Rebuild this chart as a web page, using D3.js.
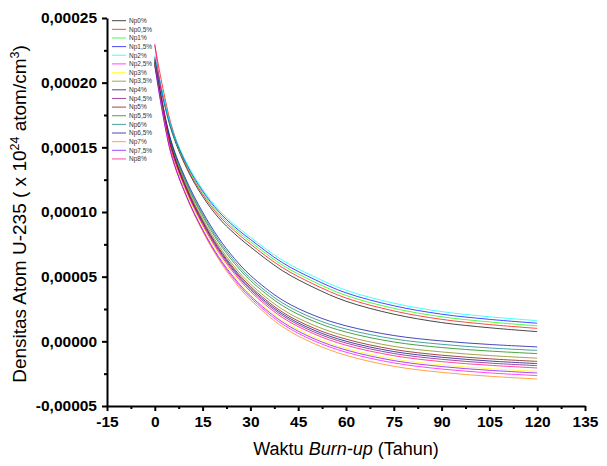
<!DOCTYPE html>
<html><head><meta charset="utf-8">
<script src="https://cdn.jsdelivr.net/npm/d3@7"></script>
<style>body{margin:0;background:#fff}</style></head>
<body>
<svg id="c" width="607" height="466"></svg>
<script>
// Burn-up time (years)
const years = [0, 5, 10, 15, 20, 25, 30, 40, 50, 60, 75, 90, 105, 120];
// U-235 atom density, in units of 1e-5 (x 10^24 atom/cm^3)
const np0   = [21.8, 16.47, 13.38, 11.21, 9.56, 8.33, 7.30, 5.47, 4.15, 3.10, 2.10, 1.45, 1.05, 0.75];
const np05  = [22.9, 16.9, 13.5, 11.37, 9.75, 8.54, 7.52, 5.71, 4.4, 3.35, 2.35, 1.7, 1.3, 1.0];
const np1   = [21.9, 16.6, 13.6, 11.5, 9.9, 8.7, 7.7, 5.9, 4.6, 3.55, 2.55, 1.9, 1.5, 1.2];
const np15  = [22.0, 16.66, 13.7, 11.63, 10.05, 8.86, 7.88, 6.09, 4.8, 3.75, 2.75, 2.1, 1.7, 1.4];
const np2   = [22.1, 16.72, 13.8, 11.76, 10.2, 9.03, 8.05, 6.28, 5.0, 3.95, 2.95, 2.3, 1.9, 1.6];
const np25  = [21.4, 14.6, 11.15, 8.58, 6.45, 4.76, 3.38, 1.34, 0.04, -0.84, -1.67, -2.14, -2.44, -2.65];
const np3   = [21.6, 14.94, 11.45, 8.87, 6.75, 5.04, 3.66, 1.63, 0.34, -0.54, -1.36, -1.82, -2.11, -2.32];
const np35  = [21.7, 15.30, 11.96, 9.48, 7.43, 5.77, 4.44, 2.48, 1.23, 0.40, -0.39, -0.82, -1.10, -1.30];
const np4   = [21.6, 15.15, 11.75, 9.23, 7.15, 5.47, 4.12, 2.13, 0.86, 0.01, -0.79, -1.23, -1.52, -1.72];
const np45  = [21.8, 15.09, 11.67, 9.13, 7.04, 5.36, 4.00, 2.00, 0.72, -0.13, -0.94, -1.39, -1.68, -1.88];
const np5   = [21.5, 15.21, 11.84, 9.33, 7.26, 5.59, 4.25, 2.27, 1.01, 0.17, -0.63, -1.07, -1.35, -1.55];
const np55  = [21.4, 15.42, 12.14, 9.69, 7.66, 6.03, 4.70, 2.77, 1.54, 0.72, -0.05, -0.48, -0.75, -0.95];
const np6   = [21.6, 15.51, 12.26, 9.84, 7.82, 6.21, 4.89, 2.98, 1.76, 0.95, 0.19, -0.23, -0.51, -0.70];
const np65  = [21.5, 15.6, 12.4, 10.0, 8.0, 6.4, 5.1, 3.2, 2.0, 1.2, 0.45, 0.03, -0.24, -0.43];
const np7   = [21.5, 14.73, 11.16, 8.51, 6.36, 4.61, 3.22, 1.14, -0.18, -1.08, -1.93, -2.40, -2.70, -2.91];
const np75  = [21.3, 14.6, 11.2, 8.65, 6.55, 4.88, 3.52, 1.5, 0.2, -0.67, -1.49, -1.95, -2.24, -2.45];
const np8   = [23.0, 15.03, 11.58, 9.02, 6.92, 5.23, 3.86, 1.85, 0.57, -0.30, -1.11, -1.57, -1.85, -2.06];

const seriesNames = ["Np0%","Np0,5%","Np1%","Np1,5%","Np2%","Np2,5%","Np3%","Np3,5%","Np4%","Np4,5%","Np5%","Np5,5%","Np6%","Np6,5%","Np7%","Np7,5%","Np8%"];
const seriesValues = [np0,np05,np1,np15,np2,np25,np3,np35,np4,np45,np5,np55,np6,np65,np7,np75,np8];
const seriesColors = ["#000000","#FF0000","#00FF00","#0000FF","#00FFFF","#FF00FF","#FFFF00","#808000","#000080","#800080","#800000","#008000","#008080","#0000A0","#FF8000","#8000FF","#FF0080"];

const xTicks = [-15, 0, 15, 30, 45, 60, 75, 90, 105, 120, 135];
const xTickLabels = ["-15","0","15","30","45","60","75","90","105","120","135"];
const yTicks = [-5, 0, 5, 10, 15, 20, 25];
const yTickLabels = ["-0,00005","0,00000","0,00005","0,00010","0,00015","0,00020","0,00025"];

const svg = d3.select("#c");
const x = d3.scaleLinear().domain([-15, 135]).range([107, 585]);
const y = d3.scaleLinear().domain([-5, 25]).range([406, 18]);
const font = "'Liberation Sans', Arial, sans-serif";

// curves
const line = d3.line().x((d,i)=>x(years[i])).y(d=>y(d)).curve(d3.curveCatmullRom.alpha(0.5));
const g = svg.append("g");
seriesValues.forEach((vals, k) => {
  g.append("path").attr("d", line(vals)).attr("fill","none")
    .attr("stroke", seriesColors[k]).attr("stroke-width", 1).attr("stroke-opacity", 0.72);
});

// minor ticks
const xMinor = xTicks.slice(0,-1).map(v => v + 7.5);
const yMinor = yTicks.slice(0,-1).map(v => v + 2.5);
svg.append("g").attr("transform","translate(0,406)")
  .call(d3.axisBottom(x).tickValues(xMinor).tickSize(3).tickFormat(""))
  .call(s => s.select(".domain").remove())
  .selectAll("line").attr("stroke-width",2);
svg.append("g").attr("transform","translate(107,0)")
  .call(d3.axisLeft(y).tickValues(yMinor).tickSize(3).tickFormat(""))
  .call(s => s.select(".domain").remove())
  .selectAll("line").attr("stroke-width",2);

// major axes
const xa = svg.append("g").attr("transform","translate(0,406)")
  .call(d3.axisBottom(x).tickValues(xTicks).tickSize(5).tickSizeOuter(0).tickPadding(5)
    .tickFormat((d,i)=>xTickLabels[i]));
const ya = svg.append("g").attr("transform","translate(107,0)")
  .call(d3.axisLeft(y).tickValues(yTicks).tickSize(5).tickSizeOuter(0).tickPadding(5)
    .tickFormat((d,i)=>yTickLabels[i]));
[xa, ya].forEach(a => {
  a.select(".domain").attr("stroke-width", 2);
  a.selectAll(".tick line").attr("stroke-width", 2);
  a.selectAll("text").attr("font-family", font).attr("font-size", 15.5).attr("font-weight","bold").attr("fill","#000");
});

// axis titles
svg.append("text").attr("x", 346).attr("y", 455).attr("text-anchor","middle")
  .attr("font-family", font).attr("font-size", 18)
  .call(t => {
    t.append("tspan").text("Waktu ");
    t.append("tspan").attr("font-style","italic").text("Burn-up");
    t.append("tspan").text(" (Tahun)");
  });
svg.append("text").attr("transform","translate(26,214) rotate(-90)").attr("text-anchor","middle")
  .attr("font-family", font).attr("font-size", 19)
  .call(t => {
    t.append("tspan").text("Densitas Atom U-235 ( x 10");
    t.append("tspan").attr("font-size", 12.5).attr("dy", -7).text("24");
    t.append("tspan").attr("dy", 7).text(" atom/cm");
    t.append("tspan").attr("font-size", 12.5).attr("dy", -7).text("3");
    t.append("tspan").attr("dy", 7).text(")");
  });

// legend
const lg = svg.append("g");
seriesNames.forEach((n, k) => {
  const yy = 20.7 + k * 8.64;
  lg.append("line").attr("x1", 112).attr("x2", 126).attr("y1", yy).attr("y2", yy)
    .attr("stroke", seriesColors[k]).attr("stroke-width", 1).attr("stroke-opacity", 0.72);
  lg.append("text").attr("x", 129).attr("y", yy).attr("dy","0.35em")
    .attr("font-family", font).attr("font-size", 6.5).attr("fill","#333").text(n);
});
</script>
</body></html>
